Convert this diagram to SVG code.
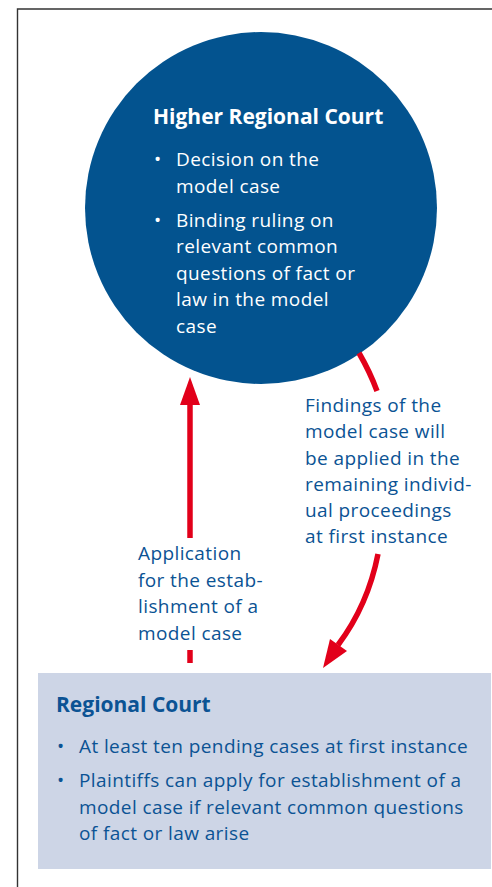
<svg xmlns="http://www.w3.org/2000/svg" width="492" height="887" viewBox="0 0 492 887">
<defs>
<style>
.t{font-family:"Open Sans","Noto Sans",sans-serif;font-size:19px;letter-spacing:0.4px}
.w{fill:#ffffff}
.b{fill:#0b5394}
.h{font-weight:bold;font-size:21px;letter-spacing:0}
.arr{stroke:#e2001a;stroke-width:5.5;fill:none}
.head{fill:#e2001a}
</style>
</defs>
<rect x="0" y="0" width="492" height="887" fill="#ffffff"/>
<path d="M17.5 887 V9 H492" fill="none" stroke="#333333" stroke-width="1.4"/>
<g id="higher-regional-court">
<circle cx="261" cy="208" r="176" fill="#03538f"/>
<text class="t w h" x="153" y="124">Higher Regional Court</text>
<text class="t w" x="154" y="166">•</text>
<text class="t w" x="176" y="166">Decision on the</text>
<text class="t w" x="176" y="193">model case</text>
<text class="t w" x="154" y="227">•</text>
<text class="t w" x="176" y="227">Binding ruling on</text>
<text class="t w" x="176" y="253">relevant common</text>
<text class="t w" x="176" y="280">questions of fact or</text>
<text class="t w" x="176" y="306">law in the model</text>
<text class="t w" x="176" y="333">case</text>
</g>
<g id="regional-court">
<rect x="38" y="673" width="453" height="196" fill="#cdd5e6"/>
<text class="t b h" x="56" y="712">Regional Court</text>
<text class="t b" x="57" y="753">•</text>
<text class="t b" x="79" y="753">At least ten pending cases at first instance</text>
<text class="t b" x="57" y="787">•</text>
<text class="t b" x="79" y="787">Plaintiffs can apply for establishment of a</text>
<text class="t b" x="79" y="814">model case if relevant common questions</text>
<text class="t b" x="79" y="840">of fact or law arise</text>
</g>
<g id="connectors">
<line class="arr" x1="190" y1="400" x2="190" y2="538"/>
<line class="arr" x1="190" y1="650" x2="190" y2="663"/>
<polygon class="head" points="190,377 180,405 200,405"/>
<path class="arr" d="M359 353 Q370 372 377 391"/>
<path class="arr" d="M378 554 Q368 605 338 645"/>
<polygon class="head" points="323,668 330,639 347,651"/>
</g>
<g id="labels">
<text class="t b" x="305" y="412">Findings of the</text>
<text class="t b" x="305" y="438">model case will</text>
<text class="t b" x="305" y="465">be applied in the</text>
<text class="t b" x="305" y="491">remaining individ-</text>
<text class="t b" x="305" y="517">ual proceedings</text>
<text class="t b" x="305" y="543">at first instance</text>
<text class="t b" x="138" y="560">Application</text>
<text class="t b" x="138" y="587">for the estab-</text>
<text class="t b" x="138" y="613">lishment of a</text>
<text class="t b" x="138" y="640">model case</text>
</g>
</svg>
